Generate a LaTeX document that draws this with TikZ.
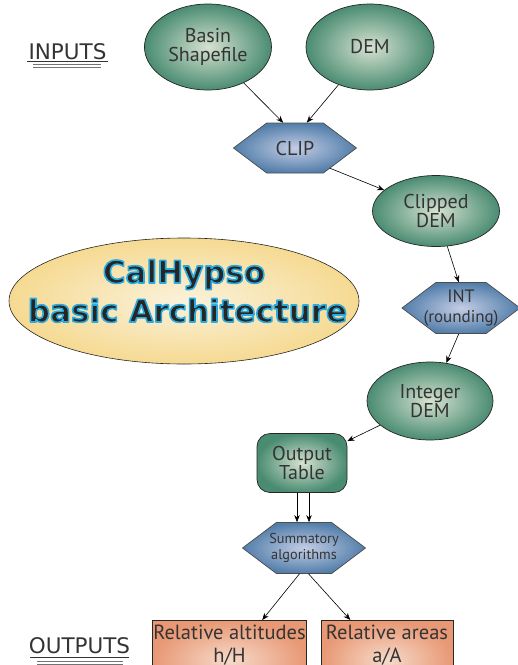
\documentclass[tikz,border=0pt]{standalone}
\usepackage{fontspec}
\setmainfont{PT Sans}
\newfontfamily\comicfont{DejaVu Sans}
\usetikzlibrary{shapes.geometric,shapes.symbols,arrows.meta}

\definecolor{grnout}{RGB}{74,140,114}
\definecolor{grnin}{RGB}{214,226,208}
\definecolor{bluout}{RGB}{82,126,170}
\definecolor{bluin}{RGB}{196,205,228}
\definecolor{orgout}{RGB}{232,152,116}
\definecolor{orgin}{RGB}{246,218,202}
\definecolor{ylwout}{RGB}{246,218,146}
\definecolor{ylwin}{RGB}{250,242,220}
\definecolor{txtgray}{RGB}{52,52,52}

% cyan outline round the title letters
\newcommand{\glowtxt}[1]{\special{pdf:literal direct 0.16 0.67 0.88 RG 1.6 w 1 j 2 Tr}#1\special{pdf:literal direct 0 Tr}}
% text line that does not widen a hexagon
\newcommand{\hexline}[1]{\makebox[0pt]{#1}}

\begin{document}
\begin{tikzpicture}[x=1pt,y=-1pt]
	\tikzset{
		txt/.style={text=txtgray, align=center, font=\fontsize{20}{19.5}\selectfont},
		ell/.style={txt, ellipse, draw=black!85, line width=0.7pt, inner color=grnin, outer color=grnout},
		hex/.style={txt, signal, signal to=east and west, signal pointer angle=74, draw=black!70, line width=0.7pt,
			inner color=bluin, outer color=bluout, minimum height=50pt, inner sep=0pt},
		outbox/.style={txt, rectangle, draw=black!85, line width=0.7pt, inner color=orgin, outer color=orgout,
			font=\fontsize{20.5}{23}\selectfont, anchor=north, inner xsep=1pt, inner ysep=4.5pt, text depth=34pt},
		lbl/.style={text=txtgray, font=\comicfont\fontsize{21.5}{24}\selectfont},
		title/.style={text=black!85, font=\comicfont\bfseries\fontsize{31}{36}\selectfont, anchor=base},
		arr/.style={-{Stealth[length=7pt,width=5.5pt]}, line width=0.6pt}
	}
	\useasboundingbox (0,0) rectangle (518,665);
	\clip (0,0) rectangle (518,665);

	% inputs
	\node[ell, minimum width=127pt, minimum height=86pt] (basin) at (208, 47) {Basin\\Shapefile};
	\node[ell, minimum width=128pt, minimum height=86pt] (dem) at (370, 47) {DEM};

	\node[hex, minimum width=123pt] (clip) at (295, 148) {\hexline{CLIP}};
	\node[ell, minimum width=127pt, minimum height=71pt] (clipped) at (436, 211) {Clipped\\DEM};
	\node[hex, minimum width=118pt, minimum height=51pt] (int) at (461, 308)
		{\fontsize{18}{18}\selectfont\hexline{INT}\\\fontsize{17}{18}\selectfont\hexline{(rounding)}};
	\node[ell, minimum width=126pt, minimum height=78pt] (integer) at (430, 401) {Integer\\DEM};

	\node[txt, rectangle, rounded corners=13pt, draw=black!85, line width=0.7pt, inner color=grnin, outer color=grnout,
		minimum width=90pt, minimum height=59pt] (outtab) at (302, 463) {Output\\Table};
	\node[hex, minimum width=123pt, minimum height=51pt, font=\fontsize{14.3}{15.5}\selectfont] (summ) at (304, 548)
		{\hexline{Summatory}\\\hexline{algorithms}};

	% outputs
	\node[outbox, minimum width=154pt] (relalt) at (229.5, 620) {Relative altitudes\\h/H};
	\node[outbox, minimum width=132pt] (relarea) at (387, 620) {Relative areas\\a/A};

	% title
	\node[ellipse, draw=black!85, line width=0.6pt, inner color=ylwin, outer color=ylwout,
		minimum width=350pt, minimum height=126pt] (titlebg) at (184, 301) {};
	\node[title] (cal) at (184, 283) {\glowtxt{CalHypso}};
	\node[title] (arch) at (187.5, 322) {\glowtxt{basic Architecture}};

	% side labels
	\node[lbl, anchor=base] (inlbl) at (67.5, 59) {INPUTS};
	\draw[black!80, line width=0.7pt] (27, 61.5) -- (108, 61.5);
	\draw[black!55, line width=0.8pt] (33, 64.5) -- (101, 64.5);
	\draw[black!55, line width=0.8pt] (33, 67.5) -- (101, 67.5);

	\node[lbl, anchor=base] (outlbl) at (79.5, 653) {OUTPUTS};
	\draw[black!80, line width=0.7pt] (30, 657) -- (129, 657);
	\draw[black!55, line width=0.8pt] (37, 661.5) -- (123, 661.5);
	\draw[black!55, line width=0.8pt] (37, 664.5) -- (123, 664.5);

	% connectors
	\draw[arr] (basin) to (clip.115);
	\draw[arr] (dem) to (clip.65);
	\draw[arr] (clip.-30) to (clipped);
	\draw[arr] (clipped) to (int.95);
	\draw[arr] (int.-95) to (integer);
	\draw[arr] (integer) to (outtab);
	\draw[arr] ([xshift=-5pt]outtab.south) to ([xshift=-7pt]summ.north);
	\draw[arr] ([xshift=7pt]outtab.south) to ([xshift=5pt]summ.north);
	\draw[arr] (summ.-100) to (relalt);
	\draw[arr] (summ.-80) to (relarea);

\end{tikzpicture}
\end{document}
